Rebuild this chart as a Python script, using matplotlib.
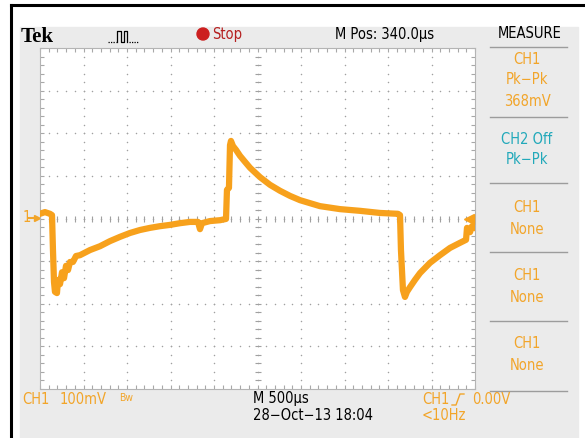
import numpy as np
import matplotlib.pyplot as plt
from matplotlib.patches import Rectangle, Circle
from matplotlib import font_manager

# trace: time (us from left edge), voltage (mV from centre)
t_us = [0, 57, 115, 138, 149, 161, 172, 195, 207, 230, 253, 276, 299, 322, 345,
        379, 414, 460, 575, 690, 805, 920, 1034, 1149, 1264, 1379, 1494, 1609,
        1724, 1816, 1839, 1862, 1954, 2069, 2138, 2149, 2172, 2184, 2195, 2218,
        2253, 2299, 2356, 2414, 2529, 2644, 2759, 2874, 2989, 3103, 3218, 3448,
        3678, 3908, 4115, 4138, 4149, 4172, 4195, 4218, 4253, 4310, 4368, 4483,
        4598, 4713, 4828, 4897, 4908, 4943, 4966, 5000]
v_mv = [11, 15, 11, 8, -74, -149, -172, -175, -144, -154, -126, -140, -111, -121, -102,
        -102, -88, -86, -74, -65, -53, -43, -34, -27, -22, -18, -15, -11,
        -8, -8, -25, -11, -6, -4, -1, 67, 72, 172, 182, 170,
        161, 147, 133, 119, 97, 79, 65, 53, 43, 36, 29, 22,
        18, 13, 11, 8, -74, -168, -184, -172, -161, -144, -128, -104,
        -86, -69, -57, -50, -22, -32, -18, -22]

measure_lines = [("CH1", 59), ("Pk\u2212Pk", 80), ("368mV", 101)]
ch2_lines = [("CH2 Off", 140), ("Pk\u2212Pk", 160)]
none_boxes = [(208, 230), (276, 298), (343, 366)]
separators = [47, 117, 183, 252, 321, 391]

ORANGE = '#f2a52a'
TRACE = '#f7a11c'
CYAN = '#22a9ba'
GRAYBG = '#ebebeb'

# narrow lettering like the scope screen, if a condensed face is around
names = {f.name for f in font_manager.fontManager.ttflist}
if 'Liberation Sans Narrow' in names:
    NARROW = dict(family='Liberation Sans Narrow')
else:
    NARROW = dict(family='DejaVu Sans', fontstretch='condensed')

fig = plt.figure(figsize=(5.85, 4.38), dpi=100)
bg = fig.add_axes([0, 0, 1, 1])
bg.set_xlim(0, 585)
bg.set_ylim(438, 0)
bg.axis('off')

# frame of the screen shot
bg.add_patch(Rectangle((20, 27), 558, 420, color=GRAYBG, zorder=0))
bg.plot([11, 585], [5, 5], color='black', lw=2.2)
bg.plot([11, 11], [5, 438], color='black', lw=2.2)

# header
bg.text(21, 37, "Tek", fontsize=15, fontweight='bold', family='Liberation Serif', va='center')
bg.plot([108, 116], [42, 42], color='black', lw=0.9, ls=(0, (1, 1)))
bg.plot([117, 117, 121, 121, 124, 124, 127, 127], [42, 31, 31, 42, 42, 31, 31, 42], color='black', lw=0.9)
bg.plot([129, 139], [42, 42], color='black', lw=0.9, ls=(0, (1, 1)))
bg.add_patch(Circle((203, 34), 6, color='#cc1f1f'))
bg.text(212, 34, "Stop", color='#b52020', fontsize=10.5, va='center', **NARROW)
bg.text(335, 34, "M Pos: 340.0\u00b5s", fontsize=10.5, va='center', **NARROW)
bg.text(530, 34, "MEASURE", fontsize=10.5, va='center', ha='center', **NARROW)

# right measure panel
for y in separators:
    bg.plot([490, 567], [y, y], color='#9c9c9c', lw=1)
for s, y in measure_lines:
    bg.text(527, y, s, color=ORANGE, fontsize=10.5, ha='center', va='center', **NARROW)
for s, y in ch2_lines:
    bg.text(527, y, s, color=CYAN, fontsize=10.5, ha='center', va='center', **NARROW)
for y1, y2 in none_boxes:
    bg.text(527, y1, "CH1", color=ORANGE, fontsize=10.5, ha='center', va='center', **NARROW)
    bg.text(527, y2, "None", color=ORANGE, fontsize=10.5, ha='center', va='center', **NARROW)

# bottom status line
bg.text(22, 399, "CH1", color=ORANGE, fontsize=10.5, va='center', **NARROW)
bg.text(60, 399, "100mV", color=ORANGE, fontsize=10.5, va='center', **NARROW)
bg.text(119, 398, "Bw", color=ORANGE, fontsize=7.5, va='center', **NARROW)
bg.text(253, 399, "M 500\u00b5s", fontsize=10.5, va='center', **NARROW)
bg.text(253, 416, "28\u2212Oct\u221213 18:04", fontsize=10.5, va='center', **NARROW)
bg.text(422, 399, "CH1", color=ORANGE, fontsize=10.5, va='center', **NARROW)
bg.plot([452, 456, 460, 464], [405, 405, 394, 394], color=ORANGE, lw=1)
bg.text(472, 399, "0.00V", color=ORANGE, fontsize=10.5, va='center', **NARROW)
bg.text(422, 416, "<10Hz", color=ORANGE, fontsize=10.5, va='center', **NARROW)

# channel marker and trigger arrow
bg.text(23, 218, "1", color=ORANGE, fontsize=10.5, va='center', **NARROW)
bg.plot([29, 36], [218, 218], color=ORANGE, lw=1.5)
bg.plot(37, 218, marker='>', color=ORANGE, ms=5)
bg.plot([228, 228], [49, 57], color='black', lw=1.2, zorder=5)
bg.plot(228, 57, marker='v', color='black', ms=5, zorder=5)

# scope grid
ax = fig.add_axes([40 / 585, (438 - 389) / 438, 435 / 585, 341 / 438])
ax.set_xlim(0, 5000)
ax.set_ylim(-400, 400)
ax.set_facecolor('white')
for sp in ax.spines.values():
    sp.set_color('#b4b4b4')
    sp.set_linewidth(0.8)
ax.set_xticks(np.arange(0, 5001, 500))
ax.set_xticks(np.arange(0, 5001, 100), minor=True)
ax.set_yticks(np.arange(-400, 401, 100))
ax.set_yticks(np.arange(-400, 401, 20), minor=True)
ax.tick_params(which='both', direction='in', top=True, right=True,
               labelbottom=False, labelleft=False, color='#a8a8a8', length=3, width=0.8)

xs_minor = np.arange(0, 5001, 100)
ys_minor = np.arange(-400, 401, 20)
for x in np.arange(500, 5000, 500):
    ax.scatter(np.full(len(ys_minor), x), ys_minor, s=1.2, color='#a0a0a0', lw=0)
for y in np.arange(-300, 400, 100):
    ax.scatter(xs_minor, np.full(len(xs_minor), y), s=1.2, color='#a0a0a0', lw=0)
ax.scatter(xs_minor, np.zeros(len(xs_minor)), marker='|', s=14, color='#a0a0a0', lw=0.8)
ax.scatter(np.full(len(ys_minor), 2500), ys_minor, marker='_', s=14, color='#a0a0a0', lw=0.8)

ax.plot(t_us, v_mv, color=TRACE, lw=4.5, solid_joinstyle='round', zorder=4)
ax.plot(4930, 0, marker='<', color=TRACE, ms=7, zorder=5)

fig.savefig('out.png', dpi=100)
